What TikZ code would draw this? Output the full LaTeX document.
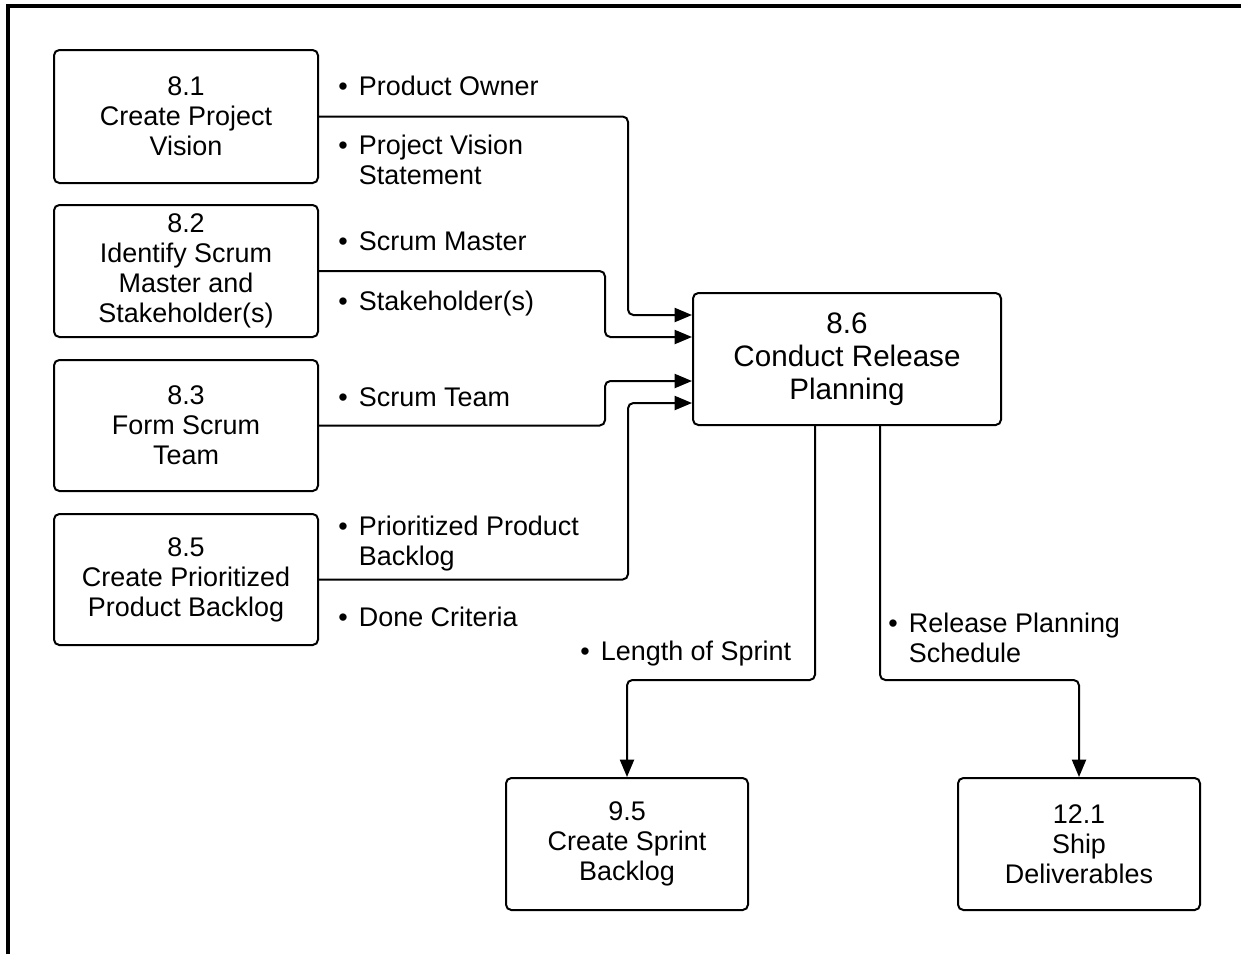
\documentclass[tikz,border=0pt]{standalone}
\usepackage{fontspec}
\setmainfont{Liberation Sans}
\usetikzlibrary{arrows.meta}
\tikzset{
  box/.style={draw, line width=1.5pt, rounded corners=4pt, align=center, inner sep=0pt,
    font=\fontsize{20.2pt}{22.5pt}\selectfont, minimum width=198pt},
  bigbox/.style={box, font=\fontsize{22.2pt}{24.75pt}\selectfont, minimum width=231pt, minimum height=99pt},
  conn/.style={line width=1.5pt, rounded corners=4pt},
  arr/.style={conn, -{Triangle[length=13pt,width=10.5pt]}},
  lbl/.style={anchor=base west, inner sep=0pt, font=\fontsize{20.2pt}{22.5pt}\selectfont},
}
\newcommand{\blt}[1]{\begin{tabular}[t]{@{}l@{\hspace{8.4pt}}l@{}}\textbullet & #1\end{tabular}}
\begin{document}
\begin{tikzpicture}[x=0.75pt,y=-0.75pt]
\useasboundingbox (0,0) rectangle (1241,954);
\draw[line width=3pt] (8,954) -- (8,5.5) -- (1241,5.5);

\node[box, minimum height=99.75pt] (b81) at (186,116.5) {8.1\\Create Project\\Vision};
\node[box, minimum height=99pt] (b82) at (186,271) {8.2\\Identify Scrum\\Master and\\Stakeholder(s)};
\node[box, minimum height=98.25pt] (b83) at (186,425.5) {8.3\\Form Scrum\\Team};
\node[box, minimum height=98.25pt] (b85) at (186,579.5) {8.5\\Create Prioritized\\Product Backlog};
\node[bigbox] (b86) at (847,359) {8.6\\Conduct Release\\Planning};
\node[box, minimum width=181.5pt, minimum height=99pt] (b95) at (627,844) {9.5\\Create Sprint\\Backlog};
\node[box, minimum width=181.5pt, minimum height=99pt] (b121) at (1079,844) {12.1\\Ship\\Deliverables};

\draw[arr] (b81.east) -| (628,315) -- (b86.west |- 628,315);
\draw[arr] (b82.east) -| (605,337) -- (b86.west |- 605,337);
\draw[arr] (b83.east) -| (605,381) -- (b86.west |- 605,381);
\draw[arr] (b85.east) -| (628,403) -- (b86.west |- 628,403);
\draw[arr] ([xshift=-24pt]b86.south) |- (627,680) -- (b95.north);
\draw[arr] ([xshift=24.75pt]b86.south) |- (1079,680) -- (b121.north);

\node[lbl] (t1) at (338,95) {\blt{Product Owner}};
\node[lbl] (t2) at (338,154) {\blt{Project Vision\\ & Statement}};
\node[lbl] (t3) at (338,250) {\blt{Scrum Master}};
\node[lbl] (t4) at (338,310) {\blt{Stakeholder(s)}};
\node[lbl] (t5) at (338,406) {\blt{Scrum Team}};
\node[lbl] (t6) at (338,535) {\blt{Prioritized Product\\ & Backlog}};
\node[lbl] (t7) at (338,626) {\blt{Done Criteria}};
\node[lbl] (t8) at (580,660) {\blt{Length of Sprint}};
\node[lbl] (t9) at (888,632) {\blt{Release Planning\\ & Schedule}};
\end{tikzpicture}
\end{document}
